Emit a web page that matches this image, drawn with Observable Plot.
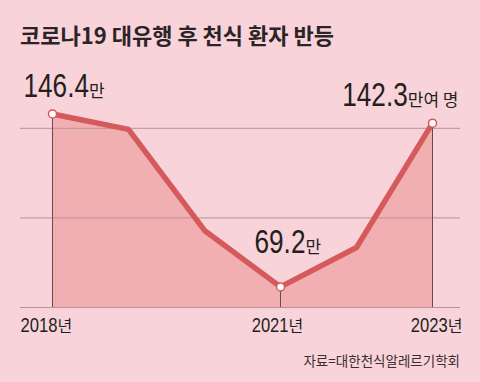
<!DOCTYPE html>
<html><head><meta charset="utf-8">
<script src="https://cdn.jsdelivr.net/npm/d3@7"></script>
<script src="https://cdn.jsdelivr.net/npm/@observablehq/plot@0.6"></script>
<style>
html,body{margin:0;padding:0;background:#f9d3da;width:480px;height:382px;overflow:hidden}
#title{font-family:"Noto Sans CJK KR","Noto Sans",sans-serif;font-weight:700;font-size:22px;color:#2b2426;padding:22px 0 0 20px;height:38px;line-height:24px;letter-spacing:0;box-sizing:content-box}
#chart svg{display:block;overflow:visible}
#source{font-family:"Noto Sans CJK KR",sans-serif;font-size:13.5px;color:#3a3034;text-align:right;padding:12px 20px 0 0;line-height:16px}
</style>
</head><body>
<div id="title"></div>
<div id="chart"></div>
<div id="source"></div>
<script>
const title = "코로나19 대유행 후 천식 환자 반등";
const source = "자료=대한천식알레르기학회";
const years = [2018, 2019, 2020, 2021, 2022, 2023];
const patients = [146.4, 139.5, 94.4, 69.2, 86.8, 142.3];
const labelYears = [2018, 2021, 2023];
const labelNumbers = ["146.4", "69.2", "142.3"];
const labelUnits = ["만", "만", "만여 명"];
const tickYears = [2018, 2021, 2023];
const tickUnit = "년";
const gridValues = [60, 100, 140];
const yBase = 60;

document.getElementById("title").textContent = title;
document.getElementById("source").textContent = source;

const data = years.map((year, i) => ({year, value: patients[i]}));
const labelData = labelYears.map((year, i) => ({year, value: patients[years.indexOf(year)], num: labelNumbers[i], unit: labelUnits[i]}));
const tickData = tickYears.map(year => ({year, value: yBase, num: String(year), unit: tickUnit}));

const lineColor = "#d45a5c";
const digitsFont = '"Liberation Sans",Arial,sans-serif';
const unitFont = '"Noto Sans CJK KR",sans-serif';

// each label: two Plot text marks (number + unit), joined after render
const labelSpecs = [];
function label(d, key, align, dx, dy, numSize, unitSize, condense) {
  labelSpecs.push({key, align, condense});
  const common = {x: "year", y: "value", lineAnchor: "bottom", textAnchor: "start", fill: "#231f20", dx, dy};
  return [
    Plot.text([d], {...common, text: "num", fontSize: numSize, fontFamily: digitsFont, className: key + "-n"}),
    Plot.text([d], {...common, text: "unit", fontSize: unitSize, fontFamily: unitFont, className: key + "-u"})
  ];
}

const chart = Plot.plot({
  width: 480, height: 280,
  marginLeft: 20, marginRight: 20, marginTop: 23, marginBottom: 33,
  x: {domain: [2018, 2023], insetLeft: 32, insetRight: 28, axis: null},
  y: {domain: [60, 160], axis: null},
  style: {background: "transparent", overflow: "visible"},
  marks: [
    Plot.areaY(data, {x: "year", y1: () => yBase, y2: "value", fill: "#f2afb2"}),
    Plot.ruleY(gridValues, {stroke: "#b8929a", strokeWidth: 1}),
    Plot.ruleX(labelData, {x: "year", y1: () => yBase, y2: "value", stroke: "#6a4a51", strokeWidth: 1}),
    Plot.line(data, {x: "year", y: "value", stroke: lineColor, strokeWidth: 5.5, strokeLinejoin: "miter"}),
    Plot.dot(labelData, {x: "year", y: "value", r: 4, fill: "white", stroke: lineColor, strokeWidth: 1.5}),
    label(labelData[0], "v0", "start", -29, -17, 34, 17, 0.77),
    label(labelData[1], "v1", "start", -26, -34, 34, 17, 0.77),
    label(labelData[2], "v2", "end", 26, -17, 34, 17, 0.77),
    label(tickData[0], "t0", "start", -32, 24, 20, 16, 0.83),
    label(tickData[1], "t1", "middle", -3, 24, 20, 16, 0.83),
    label(tickData[2], "t2", "end", 30, 24, 20, 16, 0.83)
  ]
});

document.getElementById("chart").appendChild(chart);

function addTransform(el, t) {
  el.setAttribute("transform", ((el.getAttribute("transform") || "") + " " + t).trim());
}
labelSpecs.forEach(({key, align, condense}) => {
  const n = chart.querySelector(`g.${key}-n text`);
  const u = chart.querySelector(`g.${key}-u text`);
  const bb = n.getBBox();
  const w = bb.width * condense;
  const uw = u.getBBox().width;
  const total = w + uw;
  const off = align === "end" ? -total : align === "middle" ? -total / 2 : 0;
  const px = bb.x;
  // condense the digits horizontally about their left edge
  addTransform(n, `translate(${(px + off).toFixed(2)},0) scale(${condense},1) translate(${(-px).toFixed(2)},0)`);
  addTransform(u, `translate(${(w + off).toFixed(2)},0)`);
});
</script>
</body></html>
